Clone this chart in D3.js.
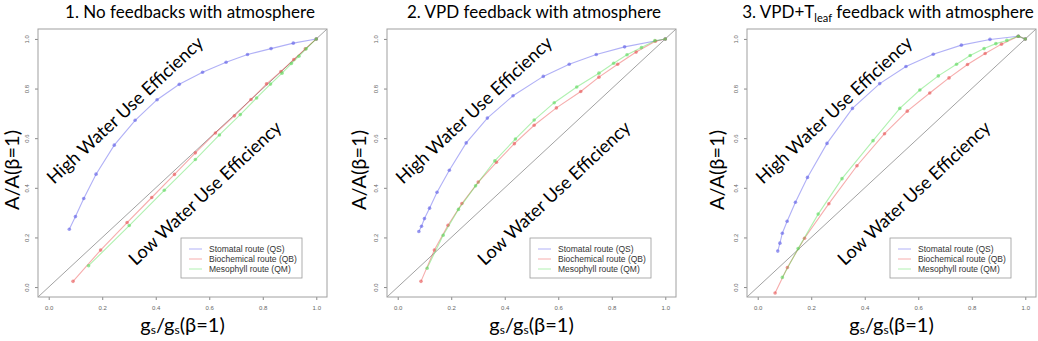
<!DOCTYPE html>
<html>
<head>
<meta charset="utf-8">
<script src="https://cdn.jsdelivr.net/npm/d3@7"></script>
<style>
  body { margin: 0; background: #fff; }
  svg { display: block; }
</style>
</head>
<body>
<svg width="1038" height="341"></svg>
<script>

  // DATA

  var tickValues = [0, 0.2, 0.4, 0.6, 0.8, 1.0];
  var seriesNames = ["Stomatal route (QS)", "Biochemical route (QB)", "Mesophyll route (QM)"];

  // 1. no feedbacks
  var noFbStomX = [0.077, 0.100, 0.131, 0.177, 0.245, 0.323, 0.405, 0.488, 0.575, 0.663, 0.743, 0.831, 0.914, 1.0];
  var noFbStomY = [0.233, 0.284, 0.357, 0.455, 0.572, 0.672, 0.755, 0.817, 0.866, 0.906, 0.937, 0.961, 0.983, 1.0];
  var noFbBioX = [0.091, 0.194, 0.293, 0.385, 0.470, 0.548, 0.623, 0.694, 0.756, 0.814, 0.868, 0.916, 0.959, 1.0];
  var noFbBioY = [0.023, 0.149, 0.260, 0.361, 0.454, 0.541, 0.621, 0.690, 0.756, 0.819, 0.869, 0.917, 0.960, 1.0];
  var noFbMesoX = [0.149, 0.301, 0.432, 0.548, 0.638, 0.716, 0.777, 0.829, 0.872, 0.907, 0.935, 0.962, 1.0];
  var noFbMesoY = [0.086, 0.248, 0.390, 0.514, 0.613, 0.695, 0.762, 0.818, 0.862, 0.901, 0.930, 0.960, 1.0];

  // 2. VPD feedback
  var vpdStomX = [0.079, 0.089, 0.100, 0.119, 0.147, 0.193, 0.256, 0.335, 0.431, 0.544, 0.641, 0.742, 0.848, 1.0];
  var vpdStomY = [0.224, 0.245, 0.276, 0.318, 0.382, 0.471, 0.581, 0.681, 0.771, 0.849, 0.898, 0.937, 0.968, 1.0];
  var vpdBioX = [0.087, 0.137, 0.188, 0.240, 0.301, 0.369, 0.436, 0.510, 0.593, 0.684, 0.752, 0.822, 0.891, 0.963, 1.0];
  var vpdBioY = [0.023, 0.149, 0.249, 0.337, 0.423, 0.503, 0.578, 0.652, 0.722, 0.788, 0.846, 0.898, 0.947, 0.991, 1.0];
  var vpdMesoX = [0.110, 0.170, 0.227, 0.291, 0.363, 0.440, 0.510, 0.585, 0.669, 0.752, 0.807, 0.857, 0.911, 0.961, 1.0];
  var vpdMesoY = [0.076, 0.209, 0.313, 0.408, 0.509, 0.597, 0.673, 0.743, 0.806, 0.862, 0.902, 0.936, 0.965, 0.993, 1.0];

  // 3. VPD + Tleaf feedback
  var tleafStomX = [0.075, 0.083, 0.092, 0.110, 0.141, 0.186, 0.259, 0.354, 0.456, 0.554, 0.656, 0.761, 0.868, 0.974, 1.0];
  var tleafStomY = [0.145, 0.177, 0.217, 0.265, 0.342, 0.442, 0.579, 0.720, 0.820, 0.889, 0.938, 0.975, 0.998, 1.011, 1.0];
  var tleafBioX = [0.065, 0.111, 0.175, 0.266, 0.371, 0.474, 0.559, 0.643, 0.715, 0.784, 0.850, 0.911, 0.974, 1.0];
  var tleafBioY = [-0.024, 0.079, 0.197, 0.336, 0.489, 0.618, 0.709, 0.782, 0.843, 0.897, 0.941, 0.979, 1.011, 1.0];
  var tleafMesoX = [0.092, 0.151, 0.226, 0.315, 0.431, 0.531, 0.606, 0.675, 0.743, 0.794, 0.846, 0.890, 0.931, 0.974, 1.0];
  var tleafMesoY = [0.039, 0.155, 0.294, 0.437, 0.590, 0.720, 0.794, 0.851, 0.898, 0.933, 0.961, 0.981, 0.994, 1.011, 1.0];

  // SETUP

  var svg = d3.select("svg"),
    boxTop = 29, boxSize = 289, boxH = 268,
    lineColors = ["rgba(80,80,235,0.45)", "rgba(235,70,70,0.45)", "rgba(80,225,80,0.45)"],
    dotColors = ["rgba(90,90,230,0.6)", "rgba(230,80,80,0.6)", "rgba(90,215,90,0.6)"],
    textFont = "Lato, 'Open Sans', sans-serif",
    smallFont = "'Liberation Sans', Arial, sans-serif";

  function zip(xs, ys) {
    return xs.map(function (x, i) { return { x: x, y: ys[i] }; });
  }

  var panels = [
    { left: 38, titleX: 190, title: ["1. No feedbacks with atmosphere"], ylab: 12,
      series: [zip(noFbStomX, noFbStomY), zip(noFbBioX, noFbBioY), zip(noFbMesoX, noFbMesoY)] },
    { left: 387, titleX: 534, title: ["2. VPD feedback with atmosphere"], ylab: 359,
      series: [zip(vpdStomX, vpdStomY), zip(vpdBioX, vpdBioY), zip(vpdMesoX, vpdMesoY)] },
    { left: 747, titleX: 888, title: ["3. VPD+T", "leaf", " feedback with atmosphere"], ylab: 717,
      series: [zip(tleafStomX, tleafStomY), zip(tleafBioX, tleafBioY), zip(tleafMesoX, tleafMesoY)] }
  ];

  // DRAWING

  panels.forEach(function (p, pi) {
    var x = d3.scaleLinear().domain([-0.04, 1.04]).range([p.left, p.left + boxSize]),
      y = d3.scaleLinear().domain([-0.04, 1.04]).range([boxTop + boxH, boxTop]),
      cx = p.left + boxSize / 2;

    var g = svg.append("g");

    var clipId = "clip" + pi;
    g.append("clipPath").attr("id", clipId)
      .append("rect")
      .attr("x", p.left).attr("y", boxTop)
      .attr("width", boxSize).attr("height", boxH);

    // 1:1 line
    g.append("line")
      .attr("clip-path", "url(#" + clipId + ")")
      .attr("x1", x(-0.04)).attr("y1", y(-0.04))
      .attr("x2", x(1.04)).attr("y2", y(1.04))
      .attr("stroke", "#8a8a8a").attr("stroke-width", 0.8);

    // axes
    g.append("g")
      .attr("transform", "translate(0," + (boxTop + boxH) + ")")
      .call(d3.axisBottom(x).tickValues(tickValues).tickFormat(d3.format(".1f")).tickSize(3).tickPadding(6))
      .call(function (a) {
        a.select(".domain").remove();
        a.selectAll("line").attr("stroke", "#888");
        a.selectAll("text").attr("font-size", 6).attr("fill", "#666").attr("font-family", smallFont);
      });

    g.append("g")
      .attr("transform", "translate(" + p.left + ",0)")
      .call(d3.axisLeft(y).tickValues(tickValues).tickFormat(d3.format(".1f")).tickSize(3).tickPadding(6))
      .call(function (a) {
        a.select(".domain").remove();
        a.selectAll("line").attr("stroke", "#888");
        a.selectAll("text")
          .attr("font-size", 6).attr("fill", "#666").attr("font-family", smallFont)
          .attr("text-anchor", "middle").attr("dy", 0).attr("x", -9)
          .attr("transform", function () { return "rotate(-90," + (-9) + ",0)"; });
      });

    g.append("rect")
      .attr("x", p.left).attr("y", boxTop)
      .attr("width", boxSize).attr("height", boxH)
      .attr("fill", "none").attr("stroke", "#a0a0a0").attr("stroke-width", 1);

    // series
    var line = d3.line().x(function (d) { return x(d.x); }).y(function (d) { return y(d.y); });
    p.series.forEach(function (s, si) {
      g.append("path").datum(s)
        .attr("d", line)
        .attr("fill", "none")
        .attr("stroke", lineColors[si])
        .attr("stroke-width", 1.1);
      g.selectAll(".dot" + si).data(s).enter().append("circle")
        .attr("cx", function (d) { return x(d.x); })
        .attr("cy", function (d) { return y(d.y); })
        .attr("r", 1.8)
        .attr("fill", dotColors[si]);
    });

    // annotations
    g.append("text")
      .attr("transform", "translate(" + (p.left + 87) + ",110) rotate(-43)")
      .attr("text-anchor", "middle").attr("dy", "0.35em")
      .attr("font-family", textFont).attr("font-size", 18)
      .text("High Water Use Efficiency");
    g.append("text")
      .attr("transform", "translate(" + (p.left + 167) + ",193) rotate(-43)")
      .attr("text-anchor", "middle").attr("dy", "0.35em")
      .attr("font-family", textFont).attr("font-size", 18)
      .text("Low Water Use Efficiency");

    // legend
    var lx = p.left + boxSize - 25 - 121, ly = 238;
    var leg = g.append("g");
    leg.append("rect")
      .attr("x", lx).attr("y", ly).attr("width", 121).attr("height", 40)
      .attr("fill", "#fff").attr("stroke", "#999").attr("stroke-width", 0.8);
    seriesNames.forEach(function (name, si) {
      var yy = ly + 11 + si * 10;
      leg.append("line")
        .attr("x1", lx + 8).attr("x2", lx + 21).attr("y1", yy).attr("y2", yy)
        .attr("stroke", lineColors[si]).attr("stroke-width", 1);
      leg.append("text")
        .attr("x", lx + 28).attr("y", yy).attr("dy", "0.35em")
        .attr("font-family", smallFont).attr("font-size", 8.5).attr("fill", "#333")
        .text(name);
    });

    // title
    var t = svg.append("text")
      .attr("x", p.titleX).attr("y", 18)
      .attr("text-anchor", "middle")
      .attr("font-family", textFont).attr("font-size", 17);
    t.append("tspan").text(p.title[0]);
    if (p.title.length > 1) {
      t.append("tspan").attr("font-size", 11).attr("dy", 4).text(p.title[1]);
      t.append("tspan").attr("dy", -4).text(p.title[2]);
    }

    // axis titles
    svg.append("text")
      .attr("transform", "translate(" + p.ylab + ",170) rotate(-90)")
      .attr("text-anchor", "middle").attr("dy", "0.35em")
      .attr("font-family", textFont).attr("font-size", 20)
      .text("A/A(β=1)");

    var xt = svg.append("text")
      .attr("x", cx).attr("y", 332)
      .attr("text-anchor", "middle")
      .attr("font-family", textFont).attr("font-size", 20);
    xt.append("tspan").text("g");
    xt.append("tspan").attr("font-size", 12).attr("dy", 2).text("s");
    xt.append("tspan").attr("dy", -2).text("/g");
    xt.append("tspan").attr("font-size", 12).attr("dy", 2).text("s");
    xt.append("tspan").attr("dy", -2).text("(β=1)");
  });

</script>
</body>
</html>
